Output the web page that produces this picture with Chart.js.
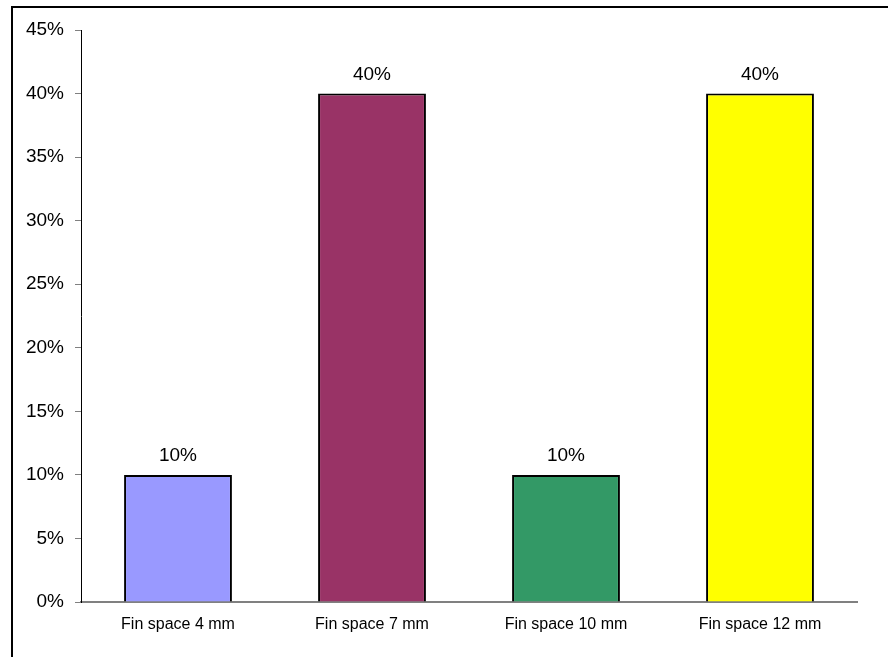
<!DOCTYPE html>
<html>
<head>
<meta charset="utf-8">
<script src="https://cdn.jsdelivr.net/npm/chart.js@4"></script>
<style>
  html, body { margin: 0; padding: 0; background: #fff; }
  #wrap { position: relative; width: 888px; height: 657px; overflow: hidden; }
  #frame { position: absolute; left: 11px; top: 6px; width: 900px; height: 700px;
           border-left: 2px solid #000; border-top: 2px solid #000; box-sizing: border-box; }
  canvas { position: absolute; left: 0; top: 0; }
</style>
</head>
<body>
<div id="wrap">
  <div id="frame"></div>
  <canvas id="finChart" width="888" height="657"></canvas>
</div>
<script>
  // share of samples per fin spacing
  const categories = ["Fin space 4 mm", "Fin space 7 mm", "Fin space 10 mm", "Fin space 12 mm"];
  const shares = [0.10, 0.40, 0.10, 0.40];
  const barColors = ["#9999FF", "#993366", "#339966", "#FFFF00"];

  const font = "'Liberation Sans', Arial, sans-serif";

  // value labels above each bar
  const valueLabels = {
    id: 'valueLabels',
    afterDatasetsDraw(chart) {
      const ctx = chart.ctx;
      const meta = chart.getDatasetMeta(0);
      ctx.save();
      ctx.font = "19px " + font;
      ctx.fillStyle = "#000";
      ctx.textAlign = "center";
      ctx.textBaseline = "alphabetic";
      meta.data.forEach((bar, i) => {
        ctx.fillText(Math.round(shares[i] * 100) + "%", bar.x, bar.y - 14);
      });
      ctx.restore();
    }
  };

  const ctx = document.getElementById('finChart').getContext('2d');

  const finChart = new Chart(ctx, {
    type: 'bar',
    data: {
      labels: categories,
      datasets: [{
        data: shares,
        backgroundColor: barColors,
        borderColor: "#000",
        borderWidth: 2,
        barPercentage: 0.556,
        categoryPercentage: 1.0,
      }]
    },
    options: {
      responsive: false,
      animation: false,
      layout: {
        padding: { top: 30, right: 31, left: 0, bottom: 0 }
      },
      plugins: {
        legend: { display: false },
        tooltip: { enabled: false },
      },
      scales: {
        x: {
          grid: { display: false },
          border: { display: true, color: "#808080", width: 2 },
          ticks: {
            color: "#000",
            font: { family: font, size: 16 },
            padding: 5,
            maxRotation: 0,
          },
          afterFit(scale) { scale.height = 55; }
        },
        y: {
          min: 0,
          max: 0.45,
          grid: {
            drawOnChartArea: false,
            drawTicks: true,
            tickLength: 6,
            color: "#808080",
          },
          border: { display: true, color: "#000", width: 1 },
          ticks: {
            stepSize: 0.05,
            color: "#000",
            font: { family: font, size: 19 },
            padding: 11,
            callback: (v) => Math.round(v * 100) + "%",
          },
          afterFit(scale) { scale.width = 81; }
        }
      }
    },
    plugins: [valueLabels]
  });
</script>
</body>
</html>
